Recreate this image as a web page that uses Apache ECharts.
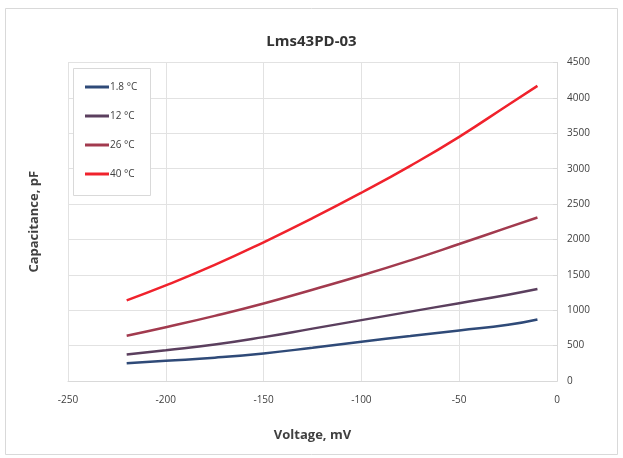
<!DOCTYPE html>
<html>
<head>
<meta charset="utf-8">
<script src="https://cdn.jsdelivr.net/npm/echarts@6/dist/echarts.min.js"></script>
<style>
  html, body { margin: 0; padding: 0; background: #ffffff; }
  #chart { width: 623px; height: 458px; }
</style>
</head>
<body>
<div id="chart"></div>
<script>
// Bias voltage, mV
const voltage = [-220, -200, -175, -150, -125, -100, -75, -50, -25, -10];

// Capacitance, pF, per temperature
const cap_1_8 = [250, 285, 330, 390, 470, 555, 635, 715, 795, 870];
const cap_12  = [375, 435, 515, 620, 740, 860, 980, 1100, 1220, 1300];
const cap_26  = [640, 760, 920, 1095, 1290, 1490, 1705, 1935, 2170, 2310];
const cap_40  = [1140, 1350, 1640, 1960, 2300, 2660, 3040, 3450, 3900, 4170];

const seriesNames = ['1.8 °C', '12 °C', '26 °C', '40 °C'];
const seriesColors = ['#2f4a78', '#5b3f5e', '#a23a4e', '#f0222c'];
const seriesData = [cap_1_8, cap_12, cap_26, cap_40];

const FONT = '"Open Sans", "Liberation Sans", sans-serif';

const chart = echarts.init(document.getElementById('chart'), null, { renderer: 'canvas' });

const series = seriesNames.map((name, i) => ({
  name: name,
  type: 'line',
  yAxisIndex: 1,
  smooth: true,
  showSymbol: false,
  lineStyle: { color: seriesColors[i], width: 2.5 },
  itemStyle: { color: seriesColors[i] },
  data: voltage.map((v, k) => [v, seriesData[i][k]])
}));

chart.setOption({
  animation: false,
  backgroundColor: '#ffffff',
  graphic: [{
    type: 'rect',
    shape: { x: 5.5, y: 8.5, width: 612, height: 446 },
    style: { fill: 'none', stroke: '#d9d9d9', lineWidth: 1 },
    z: -1
  }, {
    type: 'rect',
    shape: { x: 73.5, y: 68.5, width: 77, height: 127 },
    style: { fill: '#ffffff', stroke: '#d9d9d9', lineWidth: 1 },
    z: 5
  }],
  title: {
    text: 'Lms43PD-03',
    left: 'center',
    top: 29,
    textStyle: { fontFamily: FONT, fontSize: 15, fontWeight: 'bold', color: '#333333' }
  },
  legend: {
    orient: 'vertical',
    left: 80,
    top: 77,
    itemWidth: 24,
    itemHeight: 3,
    itemGap: 19,
    icon: 'rect',
    z: 10,
    textStyle: { fontFamily: FONT, fontSize: 10, color: '#404040', padding: [0, 0, 0, -4] },
    data: seriesNames
  },
  grid: { left: 68, right: 66, top: 62.5, bottom: 77 },
  xAxis: {
    type: 'value',
    min: -250,
    max: 0,
    interval: 50,
    name: 'Voltage, mV',
    nameLocation: 'middle',
    nameGap: 48,
    nameTextStyle: { fontFamily: FONT, fontSize: 13, fontWeight: 'bold', color: '#404040' },
    axisLine: { show: true, onZero: false, lineStyle: { color: '#d9d9d9' } },
    axisTick: { show: false },
    axisLabel: { fontFamily: FONT, fontSize: 10, color: '#404040', margin: 14 },
    splitLine: { show: true, lineStyle: { color: '#e2e2e2', width: 1 } }
  },
  yAxis: [{
    type: 'value',
    position: 'left',
    min: 0,
    max: 4500,
    interval: 500,
    name: 'Capacitance, pF',
    nameLocation: 'middle',
    nameGap: 27,
    nameTextStyle: { fontFamily: FONT, fontSize: 13, fontWeight: 'bold', color: '#404040' },
    axisLine: { show: true, lineStyle: { color: '#d9d9d9' } },
    axisTick: { show: true, length: 4, lineStyle: { color: '#d9d9d9' } },
    axisLabel: { show: false },
    splitLine: { show: false }
  }, {
    type: 'value',
    position: 'right',
    min: 0,
    max: 4500,
    interval: 500,
    axisLine: { show: true, lineStyle: { color: '#d9d9d9' } },
    axisTick: { show: false },
    axisLabel: {
      fontFamily: FONT, fontSize: 10, color: '#404040', margin: 10,
      formatter: (v) => String(v)
    },
    splitLine: { show: true, lineStyle: { color: '#e2e2e2', width: 1 } }
  }],
  series: series
});
</script>
</body>
</html>
